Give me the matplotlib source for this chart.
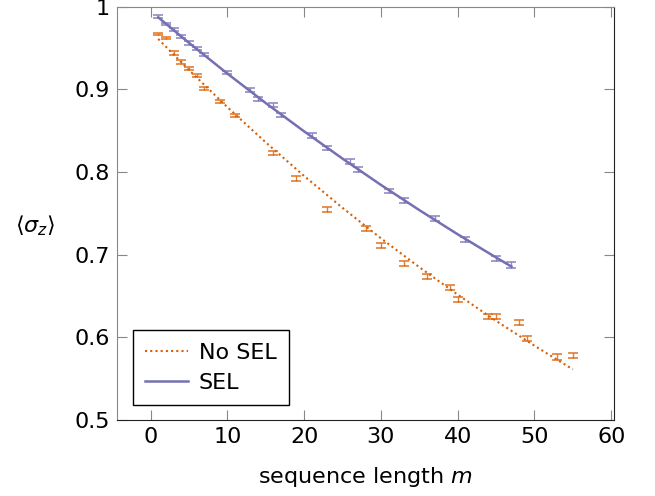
import matplotlib
matplotlib.use("Agg")
import matplotlib.pyplot as plt

plt.rcParams['font.family'] = ['DejaVu Sans']
plt.rcParams['mathtext.fontset'] = 'dejavusans'

# measured points, no SEL
m_nosel = [1, 2, 3, 4, 5, 6, 7, 9, 11, 16, 19, 23, 28, 30, 33, 36, 39, 40, 44, 45, 48, 49, 53, 55]
z_nosel = [0.967, 0.962, 0.944, 0.933, 0.925, 0.917, 0.901, 0.885, 0.868, 0.823, 0.792, 0.755,
           0.731, 0.711, 0.689, 0.673, 0.660, 0.646, 0.625, 0.625, 0.618, 0.598, 0.576, 0.578]
err_nosel = [0.0015, 0.001, 0.002, 0.002, 0.002, 0.002, 0.002, 0.002, 0.002, 0.002, 0.003, 0.003,
             0.003, 0.003, 0.003, 0.003, 0.003, 0.003, 0.003, 0.003, 0.003, 0.003, 0.0035, 0.003]

# measured points, SEL
m_sel = [1, 2, 3, 4, 5, 6, 7, 10, 13, 14, 16, 17, 21, 23, 26, 27, 31, 33, 37, 41, 45, 47]
z_sel = [0.988, 0.979, 0.972, 0.964, 0.956, 0.949, 0.942, 0.920, 0.899, 0.888, 0.881, 0.869,
         0.844, 0.829, 0.813, 0.803, 0.777, 0.765, 0.744, 0.718, 0.695, 0.687]
err_sel = [0.0015, 0.0015, 0.002, 0.002, 0.002, 0.002, 0.002, 0.002, 0.002, 0.0025, 0.0025, 0.0025,
           0.0025, 0.0025, 0.003, 0.003, 0.0025, 0.003, 0.003, 0.003, 0.003, 0.0035]

# fitted decay curves
fit_m_nosel = [1, 5, 10, 15, 20, 25, 30, 35, 40, 45, 50, 55]
fit_z_nosel = [0.9610, 0.9234, 0.8785, 0.8358, 0.7951, 0.7565, 0.7197, 0.6847, 0.6514, 0.6197, 0.5896, 0.5609]
fit_m_sel = [1, 5, 10, 15, 20, 25, 30, 35, 40, 45, 47]
fit_z_sel = [0.9871, 0.9563, 0.9191, 0.8834, 0.8491, 0.8161, 0.7843, 0.7538, 0.7245, 0.6964, 0.6854]

orange = '#d95f02'
purple = '#7570b3'

fig = plt.figure(figsize=(6.55, 4.96), dpi=100)
ax = fig.add_axes([0.1782, 0.1538, 0.9379 - 0.1782, 0.9865 - 0.1538])

ax.plot(fit_m_nosel, fit_z_nosel, color=orange, lw=1.5, ls=(0, (1, 1.5)), label='No SEL')
ax.plot(fit_m_sel, fit_z_sel, color=purple, lw=1.8, label='SEL')

ax.errorbar(m_nosel, z_nosel, yerr=err_nosel, fmt='none', ecolor=orange, alpha=0.8,
            elinewidth=1.0, capsize=3.8, capthick=1.2)
ax.errorbar(m_sel, z_sel, yerr=err_sel, fmt='none', ecolor=purple, alpha=0.8,
            elinewidth=1.0, capsize=3.8, capthick=1.2)

ax.set_xlim(-4.4, 60.4)
ax.set_ylim(0.5, 1.0)
ax.set_xticks([0, 10, 20, 30, 40, 50, 60])
ax.set_yticks([0.5, 0.6, 0.7, 0.8, 0.9, 1.0])
ax.set_yticklabels(['0.5', '0.6', '0.7', '0.8', '0.9', '1'])

ax.tick_params(direction='in', length=7, width=0.8, color='#888888', labelsize=16,
               top=True, right=True, pad=5)
for side in ['left', 'top']:
    ax.spines[side].set_color('#888888')
for side in ['right', 'bottom']:
    ax.spines[side].set_color('#222222')

ax.set_xlabel('sequence length $m$', fontsize=16, labelpad=13)
ax.set_ylabel(r'$\langle\sigma_z\rangle$', fontsize=16, rotation=0)
ax.yaxis.set_label_coords(-0.164, 0.44)

leg = ax.legend(loc='lower left', bbox_to_anchor=(0.033, 0.036), borderaxespad=0,
                fontsize=16, fancybox=False, edgecolor='black', framealpha=1,
                handlelength=1.9, borderpad=0.55, labelspacing=0.45, handletextpad=0.5)
leg.get_frame().set_linewidth(1.0)

fig.savefig('out.png', dpi=100)
